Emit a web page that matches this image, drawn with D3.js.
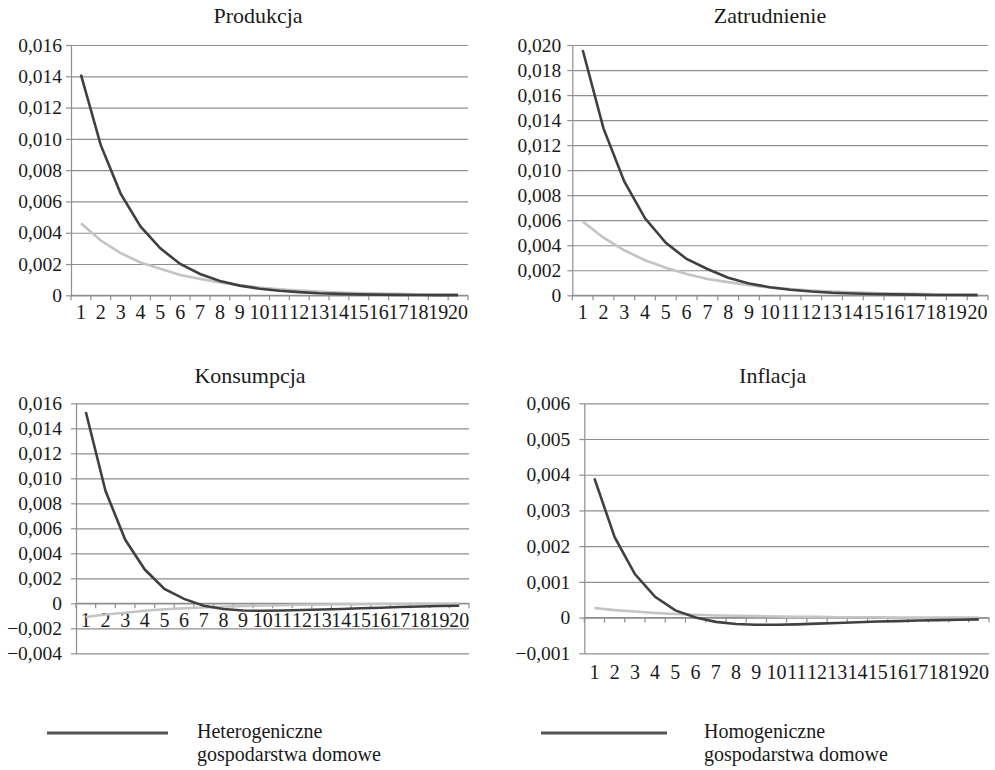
<!DOCTYPE html>
<html>
<head>
<meta charset="utf-8">
<script src="https://cdn.jsdelivr.net/npm/d3@7"></script>
<style>
  body { margin: 0; background: #fff; }
  svg text { font-family: "Liberation Serif", "Times New Roman", serif; fill: #1a1a1a; }
</style>
</head>
<body>
<svg id="chart" width="995" height="770"></svg>
<script>
// periods (quarters after the shock)
const periods = [1, 2, 3, 4, 5, 6, 7, 8, 9, 10, 11, 12, 13, 14, 15, 16, 17, 18, 19, 20];

// Produkcja
const produkcjaHet = [0.0141, 0.0096, 0.0065, 0.0044, 0.0030, 0.0020, 0.00136, 0.00092, 0.00062, 0.00042,
  0.00029, 0.0002, 0.00013, 0.00009, 0.00006, 0.00004, 0.00003, 0.00002, 0.000013, 0.00001];
const produkcjaHom = [0.0046, 0.0035, 0.0027, 0.0021, 0.0017, 0.0013, 0.00105, 0.00082, 0.00064, 0.0005,
  0.00039, 0.0003, 0.00024, 0.00018, 0.00014, 0.00011, 0.00009, 0.00007, 0.00005, 0.00004];

// Zatrudnienie
const zatrudnienieHet = [0.0196, 0.01334, 0.0091, 0.00615, 0.0042, 0.0029, 0.0021, 0.0014, 0.00095, 0.00065,
  0.00044, 0.0003, 0.0002, 0.00014, 0.0001, 0.00007, 0.00005, 0.00003, 0.00002, 0.000015];
const zatrudnienieHom = [0.0059, 0.0046, 0.0036, 0.0028, 0.0022, 0.0017, 0.0013, 0.00105, 0.0008, 0.00063,
  0.00049, 0.00038, 0.0003, 0.00023, 0.00018, 0.00014, 0.00011, 0.00008, 0.00006, 0.00005];

// Konsumpcja
const konsumpcjaHet = [0.0153, 0.0090, 0.0051, 0.0027, 0.00115, 0.00035, -0.0002, -0.00045, -0.00058, -0.0006,
  -0.00058, -0.00054, -0.0005, -0.00045, -0.0004, -0.00035, -0.0003, -0.00026, -0.00022, -0.0002];
const konsumpcjaHom = [-0.0011, -0.0009, -0.00075, -0.0006, -0.00048, -0.0004, -0.00033, -0.00027, -0.00022, -0.00018,
  -0.00015, -0.00012, -0.0001, -0.00008, -0.00007, -0.00006, -0.00005, -0.00004, -0.00003, -0.00003];

// Inflacja
const inflacjaHet = [0.0039, 0.00225, 0.00122, 0.00058, 0.0002, 0.0, -0.00012, -0.00018, -0.0002, -0.0002,
  -0.00019, -0.00017, -0.00015, -0.00013, -0.00011, -0.0001, -0.00008, -0.00007, -0.00006, -0.00005];
const inflacjaHom = [0.00027, 0.00021, 0.00017, 0.00013, 0.0001, 0.00008, 0.00006, 0.00005, 0.00004, 0.00003,
  0.00002, 0.00002, 0.00001, 0.00001, 0.00001, 0.0, 0.0, 0.0, 0.0, 0.0];

const titles = ["Produkcja", "Zatrudnienie", "Konsumpcja", "Inflacja"];
const legendLabels = [
  ["Heterogeniczne", "gospodarstwa domowe"],
  ["Homogeniczne", "gospodarstwa domowe"]
];

const hetColor = "#404040";
const homColor = "#c4c4c4";
const gridColor = "#8f8f8f";
const serif = '"Liberation Serif", "Times New Roman", serif';

// layout of the four panels
const panels = [
  { title: titles[0], het: produkcjaHet, hom: produkcjaHom, domain: [0, 0.016], step: 0.002,
    x0: 71, x1: 468, y0: 45, y1: 295.3, tx: 258, ty: 23, gap: 9, labelsAtBottom: false },
  { title: titles[1], het: zatrudnienieHet, hom: zatrudnienieHom, domain: [0, 0.020], step: 0.002,
    x0: 572.3, x1: 988, y0: 45, y1: 295.3, tx: 770, ty: 23, gap: 11, labelsAtBottom: false },
  { title: titles[2], het: konsumpcjaHet, hom: konsumpcjaHom, domain: [-0.004, 0.016], step: 0.002,
    x0: 76, x1: 469, y0: 403.3, y1: 653.3, tx: 250, ty: 383, gap: 14, labelsAtBottom: false },
  { title: titles[3], het: inflacjaHet, hom: inflacjaHom, domain: [-0.001, 0.006], step: 0.001,
    x0: 584.3, x1: 989, y0: 403.3, y1: 653.3, tx: 772.7, ty: 383, gap: 14, labelsAtBottom: true }
];

const fmt = (v) => Math.abs(v) < 1e-12 ? "0" : d3.format(".3f")(v).replace(".", ",");

const svg = d3.select("#chart");

panels.forEach((p) => {
  const g = svg.append("g");
  const x = d3.scaleBand().domain(periods).range([p.x0, p.x1]);
  const y = d3.scaleLinear().domain(p.domain).range([p.y1, p.y0]);
  const n = Math.round((p.domain[1] - p.domain[0]) / p.step);
  const yTicks = d3.ticks(p.domain[0], p.domain[1], n);

  // title
  g.append("text")
    .attr("x", p.tx)
    .attr("y", p.ty)
    .attr("text-anchor", "middle")
    .attr("font-family", serif)
    .attr("font-size", 22)
    .text(p.title);

  // gridlines
  g.append("g")
    .attr("transform", `translate(${p.x0},0)`)
    .call(d3.axisLeft(y).tickValues(yTicks).tickSize(-(p.x1 - p.x0)).tickFormat(""))
    .call((s) => s.select(".domain").remove())
    .call((s) => s.selectAll("line").attr("stroke", gridColor).attr("stroke-width", 1.2));

  // y axis
  g.append("g")
    .attr("transform", `translate(${p.x0},0)`)
    .call(d3.axisLeft(y).tickValues(yTicks).tickSizeInner(5).tickSizeOuter(0)
      .tickPadding(p.gap - 5).tickFormat(fmt))
    .attr("font-family", serif)
    .attr("font-size", 19.5)
    .call((s) => s.select(".domain").attr("stroke", gridColor).attr("stroke-width", 1.2))
    .call((s) => s.selectAll("line").attr("stroke", gridColor).attr("stroke-width", 1.2))
    .call((s) => s.selectAll("text").attr("fill", "#1a1a1a"));

  // x axis line at zero with tick marks on category boundaries
  const y0 = y(0);
  g.append("line")
    .attr("x1", p.x0).attr("x2", p.x1)
    .attr("y1", y0).attr("y2", y0)
    .attr("stroke", gridColor).attr("stroke-width", 1.2);
  const bounds = periods.map((d) => x(d)).concat([p.x1]);
  g.append("g").selectAll("line")
    .data(bounds)
    .join("line")
    .attr("x1", (d) => d).attr("x2", (d) => d)
    .attr("y1", y0).attr("y2", y0 + 5)
    .attr("stroke", gridColor).attr("stroke-width", 1.2);

  // x labels
  const labelBase = p.labelsAtBottom ? p.y1 + 26 : y0 + 24;
  g.append("g")
    .attr("transform", `translate(0,${labelBase})`)
    .call(d3.axisBottom(x).tickSize(0).tickPadding(0))
    .attr("font-family", serif)
    .attr("font-size", 20)
    .call((s) => s.select(".domain").remove())
    .call((s) => s.selectAll("text").attr("y", 0).attr("dy", 0).attr("fill", "#1a1a1a"));

  // series
  const line = d3.line()
    .x((d, i) => x(periods[i]) + x.bandwidth() / 2)
    .y((d) => y(d));

  g.append("path")
    .datum(p.hom)
    .attr("fill", "none")
    .attr("stroke", homColor)
    .attr("stroke-width", 2.6)
    .attr("d", line);

  g.append("path")
    .datum(p.het)
    .attr("fill", "none")
    .attr("stroke", hetColor)
    .attr("stroke-width", 2.6)
    .attr("d", line);
});

// legend (both keys are printed dark in the source)
const legend = svg.append("g").attr("font-family", serif);
const legendItems = [
  { x0: 47, x1: 168, tx: 197, lines: legendLabels[0] },
  { x0: 541, x1: 667, tx: 704, lines: legendLabels[1] }
];
legendItems.forEach((it) => {
  legend.append("line")
    .attr("x1", it.x0).attr("x2", it.x1)
    .attr("y1", 733).attr("y2", 733)
    .attr("stroke", "#555").attr("stroke-width", 3);
  it.lines.forEach((t, i) => {
    legend.append("text")
      .attr("x", it.tx)
      .attr("y", 738 + i * 23)
      .attr("font-size", 20)
      .text(t);
  });
});
</script>
</body>
</html>
